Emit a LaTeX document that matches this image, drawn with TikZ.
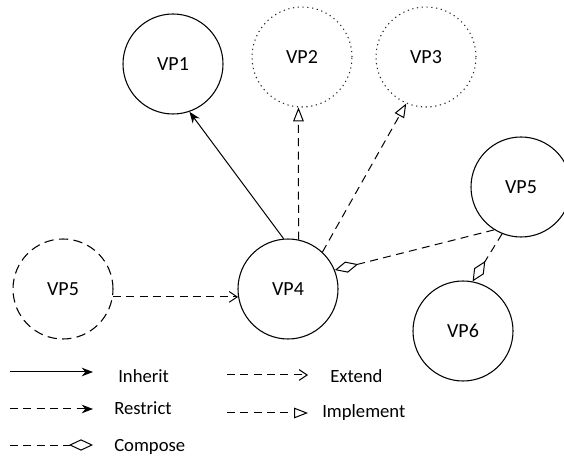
\documentclass[tikz,border=0pt]{standalone}
\usepackage{fontspec}
\setmainfont{Carlito}
\usetikzlibrary{arrows.meta}

\begin{document}
\begin{tikzpicture}[x=0.75pt,y=0.75pt,yscale=-1,xscale=1,
  vp/.style={circle, draw, line width=0.8pt, inner sep=0pt, minimum size=75pt, font=\fontsize{15}{18}\selectfont},
  lbl/.style={anchor=west, inner sep=0.75pt, font=\fontsize{14}{17}\selectfont},
  dsh/.style={line width=0.75pt, dash pattern={on 6pt off 4pt}},
  inherit/.style={line width=0.75pt, -{Stealth[length=8.5pt,width=6.5pt]}},
  restrict/.style={dsh, -{Stealth[length=8.5pt,width=6.5pt]}},
  extend/.style={dsh, -{Straight Barb[length=6pt,width=8pt,line width=0.75pt]}},
  implement/.style={dsh, -{Triangle[open,length=10.5pt,width=8pt,line width=0.75pt]}},
  compose/.style={dsh, -{Diamond[open,length=18pt,width=8.5pt,line width=0.75pt]}}
]
\useasboundingbox (0,0) rectangle (564,459);

% Viewpoints
\node [vp] (vp1) at (173,64) {VP1};
\node [vp, draw=black!85, dash pattern={on 0.9pt off 2.7pt}] (vp2) at (302,57) {VP2};
\node [vp, draw=black!85, dash pattern={on 0.9pt off 2.7pt}] (vp3) at (426,57) {VP3};
\node [vp] (vp4) at (288,289) {VP4};
\node [vp, dash pattern={on 7pt off 4pt}] (vp5l) at (63,289) {VP5};
\node [vp] (vp5r) at (521,187) {VP5};
\node [vp] (vp6) at (463,331) {VP6};

% Relations
\draw [inherit] (vp4.95) -- (vp1.-71);
\draw [implement] (vp4.78) -- (vp2.-94);
\draw [implement] (vp4.47) -- (vp3.-113);
\draw [extend] (vp5l.-9) -- (vp4.189);
\draw [compose] (vp5r.-122) -- (vp4.22);
\draw [compose] (vp5r.-112) -- (vp6.79);

% Legend
\coordinate (inh1) at (10,372);  \coordinate (inh2) at (93,372);
\coordinate (res1) at (10,409);  \coordinate (res2) at (93,409);
\coordinate (com1) at (10,445);  \coordinate (com2) at (93,445);
\coordinate (ext1) at (227,375); \coordinate (ext2) at (308,375);
\coordinate (imp1) at (227,413); \coordinate (imp2) at (308,413);

\draw [inherit] (inh1) -- (inh2);
\draw [restrict] (res1) -- (res2);
\draw [compose] (com1) -- (com2);
\draw [extend] (ext1) -- (ext2);
\draw [implement] (imp1) -- (imp2);

\node [lbl] (inhlbl) at (117,376) {Inherit};
\node [lbl] (reslbl) at (113,408) {Restrict};
\node [lbl] (comlbl) at (113,447) {Compose};
\node [lbl] (extlbl) at (329,376) {Extend};
\node [lbl] (implbl) at (321,413) {Implement};

\end{tikzpicture}
\end{document}
